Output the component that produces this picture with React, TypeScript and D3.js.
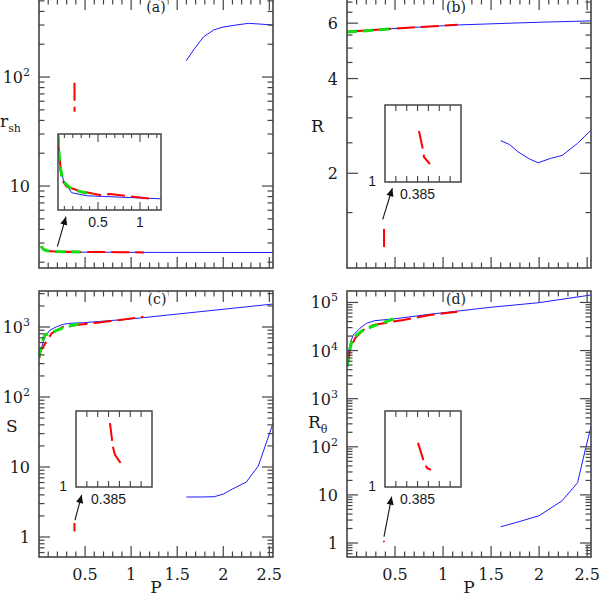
import React, { useEffect, useRef } from 'react'
import * as d3 from 'd3'

// ---------- values (x = P for every panel) ----------

// (a) r_sh
const aBlueP = [0.026, 0.032, 0.087, 0.187, 0.365, 1.24, 2.54]
const aBlueV = [2.76, 2.681, 2.558, 2.491, 2.475, 2.459, 2.455]
const aRedP = [0.024, 0.027, 0.068, 0.127, 0.286, 0.524, 0.643, 0.842, 1.14]
const aRedV = [2.8, 2.751, 2.558, 2.523, 2.5, 2.479, 2.484, 2.474, 2.459]
const aGreenP = [0.024, 0.048, 0.087, 0.187, 0.345, 0.45]
const aGreenV = [2.795, 2.628, 2.549, 2.509, 2.491, 2.484]
const aRedBranchP = [0.38513, 0.3855, 0.38559, 0.38614]
const aRedBranchV = [88.6, 72, 65, 48]
const aBlueHiP = [1.598, 1.677, 1.786, 1.895, 1.986, 2.112, 2.275, 2.402, 2.543]
const aBlueHiV = [141, 177, 234, 270, 286, 298, 311, 306, 300]

// (b) R
const bBlueP = [0, 0.54, 1.14, 2.0, 2.54]
const bBlueV = [5.64, 5.78, 5.92, 6.04, 6.1]
const bRedP = [0.02, 0.5, 1.15]
const bRedV = [5.64, 5.77, 5.93]
const bGreenP = [0, 0.5]
const bGreenV = [5.62, 5.77]
const bRedBranchP = [0.38513, 0.3855, 0.38559, 0.38614]
const bRedBranchV = [1.331, 1.208, 1.162, 1.117]
const bBlueLoP = [1.6, 1.69, 1.78, 1.9, 1.99, 2.12, 2.24, 2.4, 2.54]
const bBlueLoV = [2.54, 2.47, 2.34, 2.22, 2.16, 2.23, 2.28, 2.49, 2.74]

// (c) S
const cBlueP = [0.003, 0.029, 0.065, 0.12, 0.192, 0.264, 0.337, 0.482, 0.989, 2.54]
const cBlueV = [398, 523, 727, 906, 1010, 1093, 1129, 1152, 1301, 2130]
const cRedP = [0.005, 0.011, 0.138, 0.264, 0.41, 0.627, 0.88, 1.134]
const cRedV = [360, 444, 813, 1010, 1068, 1152, 1259, 1403]
const cGreenP = [0.003, 0.029, 0.065, 0.156, 0.264, 0.373, 0.482]
const cGreenV = [376, 585, 769, 858, 977, 1068, 1129]
const cRedBranchP = [0.38513, 0.3854, 0.3856, 0.38624]
const cRedBranchV = [1.589, 1.368, 1.295, 1.203]
const cBlueLoP = [1.6, 1.75, 1.9, 2.0, 2.1, 2.25, 2.38, 2.54]
const cBlueLoV = [3.73, 3.73, 3.76, 4.1, 4.85, 6.1, 10.3, 42]

// (d) R_theta
const dBlueP = [0.005, 0.014, 0.039, 0.066, 0.135, 0.205, 0.292, 0.483, 0.865, 1.5, 2.0, 2.54]
const dBlueV = [7000, 9490, 15300, 21100, 29100, 37000, 41900, 45400, 56900, 79500, 99000, 143000]
const dRedP = [0.005, 0.014, 0.031, 0.083, 0.17, 0.274, 0.413, 0.587, 0.865, 1.149]
const dRedV = [4800, 5900, 10300, 18000, 26800, 34000, 38000, 43300, 55000, 64400]
const dGreenP = [0.003, 0.024, 0.049, 0.1, 0.17, 0.274, 0.378, 0.483]
const dGreenV = [4630, 9490, 15300, 21100, 26800, 32400, 38000, 45400]
const dRedBranchP = [0.38504, 0.38559, 0.38587, 0.38624]
const dRedBranchV = [1.116, 1.066, 1.05, 1.045]
const dBlueLoP = [1.6, 1.79, 2.0, 2.24, 2.4, 2.48, 2.54]
const dBlueLoV = [2.18, 2.77, 3.7, 7.57, 17.9, 85.8, 262]

const xTickLabels = ['0.5', '1', '1.5', '2', '2.5']
const insetTickLabel = '0.385'

// ------------------------------------------------------------------------

const P_MAX = 2.54
const SERIF = '"DejaVu Serif", "Liberation Serif", serif'
const SANS = '"Liberation Sans", Arial, sans-serif'
const INK = '#1a1a1a'
const FRAME = '#444'

const STYLE = {
  blue: { stroke: '#1c1cff', width: 1, dash: null },
  red: { stroke: '#ff0000', width: 2, dash: '18,6' },
  green: { stroke: '#12e012', width: 3, dash: '10,6' },
}

const ser = (kind, p, v) => ({ kind, p, v })

function logTicks(lo, hi) {
  const out = []
  for (let e = Math.floor(Math.log10(lo)); e <= Math.ceil(Math.log10(hi)); e++) {
    for (let k = 1; k <= 9; k++) {
      const v = k * Math.pow(10, e)
      if (v < lo * 1.0001 || v > hi / 1.0001) continue
      let base = null, sup = null
      if (k === 1) {
        if (e === 0) base = '1'
        else if (e === 1) base = '10'
        else { base = '10'; sup = String(e) }
      }
      out.push({ v, major: k === 1, base, sup })
    }
  }
  return out
}

function drawSeries(g, list, x, y) {
  const line = d3.line().x(d => x(d[0])).y(d => y(d[1]))
  list.forEach(s => {
    const st = STYLE[s.kind]
    const pts = s.p.map((p, i) => [p, s.v[i]])
    g.append('path')
      .attr('d', line(pts))
      .attr('fill', 'none')
      .attr('stroke', st.stroke)
      .attr('stroke-width', st.width)
      .attr('stroke-dasharray', st.dash)
      .attr('stroke-linejoin', 'round')
  })
}

function drawInset(svg, ins, id) {
  const x = d3.scaleLinear().domain(ins.xDomain).range([ins.x0, ins.x1])
  const y = d3.scaleLinear().domain(ins.yDomain).range([ins.y1, ins.y0])
  svg.append('rect').attr('x', ins.x0).attr('y', ins.y0)
    .attr('width', ins.x1 - ins.x0).attr('height', ins.y1 - ins.y0).attr('fill', '#fff')
  svg.append('clipPath').attr('id', 'iclip-' + id).append('rect')
    .attr('x', ins.x0).attr('y', ins.y0).attr('width', ins.x1 - ins.x0).attr('height', ins.y1 - ins.y0)
  const g = svg.append('g').attr('clip-path', `url(#iclip-${id})`)
  drawSeries(g, ins.series, x, y)

  ins.ticks.forEach(t => {
    const len = t.major ? ins.majorLen : ins.minorLen
    const xx = x(t.v)
    svg.append('line').attr('x1', xx).attr('x2', xx).attr('y1', ins.y1).attr('y2', ins.y1 - len)
      .attr('stroke', FRAME).attr('stroke-width', 1.1)
    svg.append('line').attr('x1', xx).attr('x2', xx).attr('y1', ins.y0).attr('y2', ins.y0 + len)
      .attr('stroke', FRAME).attr('stroke-width', 1.1)
  })
  svg.append('rect').attr('x', ins.x0).attr('y', ins.y0)
    .attr('width', ins.x1 - ins.x0).attr('height', ins.y1 - ins.y0)
    .attr('fill', 'none').attr('stroke', FRAME).attr('stroke-width', 1.5)

  ins.labels.forEach(l => {
    svg.append('text').attr('x', x(l.v)).attr('y', ins.y1 + 17)
      .attr('text-anchor', 'middle').attr('font-family', SANS).attr('font-size', 14)
      .attr('fill', INK).text(l.text)
  })
  if (ins.yLabel) {
    svg.append('text').attr('x', ins.x0 - 9).attr('y', ins.y1 + 4)
      .attr('text-anchor', 'end').attr('font-family', SANS).attr('font-size', 14)
      .attr('fill', INK).text(ins.yLabel)
  }
}

function drawPanel(svg, cfg) {
  const { id, left, right, top, bottom } = cfg
  const x = d3.scaleLinear().domain([0, P_MAX]).range([left, right])
  const y = d3.scaleLog().domain(cfg.yDomain).range([bottom, top])

  svg.append('clipPath').attr('id', 'clip-' + id).append('rect')
    .attr('x', left).attr('y', top).attr('width', right - left).attr('height', bottom - top)
  const g = svg.append('g').attr('clip-path', `url(#clip-${id})`)
  drawSeries(g, cfg.series, x, y)

  const tick = (x1, y1, x2, y2) =>
    svg.append('line').attr('x1', x1).attr('y1', y1).attr('x2', x2).attr('y2', y2)
      .attr('stroke', FRAME).attr('stroke-width', 1.2)

  // x ticks, bottom and top
  d3.range(1, 26).map(i => i / 10).forEach(v => {
    const major = Math.abs(v * 2 - Math.round(v * 2)) < 1e-9
    const len = major ? 11 : 5.5
    const xx = x(v)
    tick(xx, bottom, xx, bottom - len)
    tick(xx, top, xx, top + len)
  })
  // y ticks, left and right
  cfg.yTicks.forEach(t => {
    const len = t.major ? 11 : 5.5
    const yy = y(t.v)
    tick(left, yy, left + len, yy)
    tick(right, yy, right - len, yy)
    if (t.base) {
      const tx = svg.append('text').attr('x', left - 9).attr('y', yy + 6)
        .attr('text-anchor', 'end').attr('font-family', SERIF).attr('font-size', 16).attr('fill', INK)
      tx.append('tspan').text(t.base)
      if (t.sup) tx.append('tspan').attr('dy', -7).attr('font-size', 11).text(t.sup)
    }
  })

  svg.append('rect').attr('x', left).attr('y', top).attr('width', right - left).attr('height', bottom - top)
    .attr('fill', 'none').attr('stroke', FRAME).attr('stroke-width', 1.6)

  // panel letter with a white patch behind it
  const tt = svg.append('text').attr('x', cfg.titleX).attr('y', top + 13)
    .attr('text-anchor', 'middle').attr('font-family', SERIF).attr('font-size', 14)
    .attr('fill', INK).text(cfg.title)
  const bb = tt.node().getBBox()
  svg.insert('rect', () => tt.node()).attr('x', bb.x - 2).attr('y', top + 1.5)
    .attr('width', bb.width + 4).attr('height', 12).attr('fill', '#fff')

  // axis titles
  const yl = svg.append('text').attr('x', cfg.ylab.x).attr('y', cfg.ylab.y)
    .attr('font-family', SERIF).attr('font-size', 17).attr('fill', INK)
  yl.append('tspan').text(cfg.ylab.main)
  if (cfg.ylab.sub) yl.append('tspan').attr('dy', 5).attr('font-size', 11).text(cfg.ylab.sub)

  if (cfg.xLabels) {
    xTickLabels.forEach(s => {
      svg.append('text').attr('x', x(+s)).attr('y', bottom + 23)
        .attr('text-anchor', 'middle').attr('font-family', SERIF).attr('font-size', 16)
        .attr('fill', INK).text(s)
    })
    svg.append('text').attr('x', (left + right) / 2).attr('y', bottom + 36)
      .attr('text-anchor', 'middle').attr('font-family', SERIF).attr('font-size', 17)
      .attr('fill', INK).text('P')
  }

  drawInset(svg, cfg.inset, id)

  const a = cfg.arrow
  svg.append('line')
    .attr('x1', x(a.from[0])).attr('y1', y(a.from[1]))
    .attr('x2', x(a.to[0])).attr('y2', y(a.to[1]))
    .attr('stroke', '#111').attr('stroke-width', 1.1)
    .attr('marker-end', 'url(#arrowhead)')
}

const narrowTicks = d3.range(0.383, 0.3885, 0.001).map(v => ({ v, major: false }))

export default function App() {
  const ref = useRef(null)

  useEffect(() => {
    const svg = d3.select(ref.current)
    svg.selectAll('*').remove()
    svg.append('rect').attr('width', 599).attr('height', 599).attr('fill', '#fff')
    svg.append('defs').append('marker')
      .attr('id', 'arrowhead').attr('viewBox', '0 0 10 10').attr('refX', 10).attr('refY', 5)
      .attr('markerWidth', 9).attr('markerHeight', 8).attr('markerUnits', 'userSpaceOnUse')
      .attr('orient', 'auto')
      .append('path').attr('d', 'M0,0.5 L10,5 L0,9.5 z').attr('fill', '#111')

    const aLow = [ser('blue', aBlueP, aBlueV), ser('red', aRedP, aRedV), ser('green', aGreenP, aGreenV)]

    const panels = [
      {
        id: 'a', left: 39, right: 273, top: -1, bottom: 268, yDomain: [1.77, 520],
        yTicks: logTicks(1.77, 520), title: '(a)', titleX: 156,
        ylab: { main: 'r', sub: 'sh', x: 0, y: 127 }, xLabels: false,
        series: [...aLow, ser('blue', aBlueHiP, aBlueHiV), ser('red', aRedBranchP, aRedBranchV)],
        inset: {
          x0: 58, x1: 161, y0: 134, y1: 210, xDomain: [0.024, 1.25], yDomain: [2.4, 2.8],
          ticks: d3.range(1, 13).map(i => ({ v: i / 10, major: i % 5 === 0 })),
          majorLen: 8, minorLen: 4,
          labels: [{ v: 0.5, text: '0.5' }, { v: 1, text: '1' }],
          series: aLow,
        },
        arrow: { from: [0.199, 2.776], to: [0.293, 5.23] },
      },
      {
        id: 'b', left: 347, right: 591, top: -1, bottom: 268, yDomain: [1, 7.16],
        yTicks: d3.range(1.5, 7.01, 0.5).map(v => ({ v, major: v % 2 === 0, base: v % 2 === 0 ? String(v) : null, sup: null })),
        title: '(b)', titleX: 456,
        ylab: { main: 'R', x: 311, y: 132 }, xLabels: false,
        series: [
          ser('blue', bBlueP, bBlueV), ser('blue', bBlueLoP, bBlueLoV),
          ser('red', bRedP, bRedV), ser('red', bRedBranchP, bRedBranchV),
          ser('green', bGreenP, bGreenV),
        ],
        inset: {
          x0: 385, x1: 461, y0: 105, y1: 182, xDomain: [0.382, 0.389], yDomain: [1, 1.5],
          ticks: narrowTicks, majorLen: 6, minorLen: 6,
          labels: [{ v: 0.385, text: insetTickLabel }], yLabel: '1',
          series: [ser('red', bRedBranchP, bRedBranchV)],
        },
        arrow: { from: [0.372, 1.428], to: [0.472, 1.792] },
      },
      {
        id: 'c', left: 39, right: 273, top: 291, bottom: 557, yDomain: [0.518, 3270],
        yTicks: logTicks(0.518, 3270), title: '(c)', titleX: 157,
        ylab: { main: 'S', x: 6, y: 432 }, xLabels: true,
        series: [
          ser('blue', cBlueP, cBlueV), ser('blue', cBlueLoP, cBlueLoV),
          ser('red', cRedP, cRedV), ser('red', cRedBranchP, cRedBranchV),
          ser('green', cGreenP, cGreenV),
        ],
        inset: {
          x0: 76, x1: 152, y0: 411, y1: 487, xDomain: [0.382, 0.389], yDomain: [1, 1.7],
          ticks: narrowTicks, majorLen: 6, minorLen: 6,
          labels: [{ v: 0.385, text: insetTickLabel }], yLabel: '1',
          series: [ser('red', cRedBranchP, cRedBranchV)],
        },
        arrow: { from: [0.391, 1.75], to: [0.463, 3.98] },
      },
      {
        id: 'd', left: 347, right: 591, top: 291, bottom: 557, yDomain: [0.512, 173000],
        yTicks: logTicks(0.512, 173000), title: '(d)', titleX: 456,
        ylab: { main: 'R', sub: 'θ', x: 308, y: 428 }, xLabels: true,
        series: [
          ser('blue', dBlueP, dBlueV), ser('blue', dBlueLoP, dBlueLoV),
          ser('red', dRedP, dRedV), ser('red', dRedBranchP, dRedBranchV),
          ser('green', dGreenP, dGreenV),
        ],
        inset: {
          x0: 385, x1: 461, y0: 411, y1: 487, xDomain: [0.382, 0.389], yDomain: [1, 1.2],
          ticks: narrowTicks, majorLen: 6, minorLen: 6,
          labels: [{ v: 0.385, text: insetTickLabel }], yLabel: '1',
          series: [ser('red', dRedBranchP, dRedBranchV)],
        },
        arrow: { from: [0.385, 1.353], to: [0.465, 9.18] },
      },
    ]

    panels.forEach(p => drawPanel(svg, p))
  }, [])

  return (
    <svg
      ref={ref}
      width={599}
      height={599}
      style={{ position: 'absolute', left: 0, top: 0, display: 'block' }}
    />
  )
}
